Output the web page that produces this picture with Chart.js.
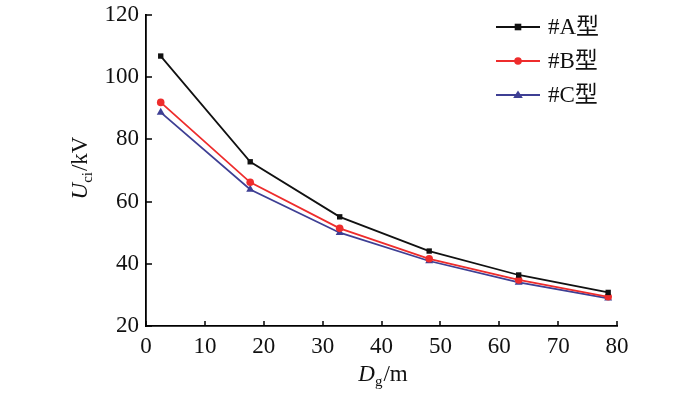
<!DOCTYPE html>
<html>
<head>
<meta charset="utf-8">
<script src="https://cdn.jsdelivr.net/npm/chart.js@4"></script>
<style>
html,body{margin:0;padding:0;background:#fff;}
#wrap{width:700px;height:394px;}
</style>
</head>
<body>
<div id="wrap"><canvas id="c" width="700" height="394"></canvas></div>
<script>
const xValues = [2.5, 17.7, 32.9, 48.1, 63.3, 78.5];
const seriesA = [106.8, 72.8, 55.1, 44.1, 36.4, 30.8];
const seriesB = [91.9, 66.2, 51.4, 41.6, 34.8, 29.4];
const seriesC = [88.7, 63.9, 50.0, 40.9, 34.0, 28.9];
const seriesNames = ['#A型', '#B型', '#C型'];
const xTicks = [0, 10, 20, 30, 40, 50, 60, 70, 80];
const yTicks = [20, 40, 60, 80, 100, 120];

const FONT = '"Liberation Serif", "Times New Roman", "Noto Sans CJK SC", serif';
const colors = ['#111111', '#ee2c2c', '#3e3f94'];
const styles = ['rect', 'circle', 'triangle'];
const radii = [3.3, 3.8, 4.6];

function pts(ys){ return xValues.map((x,i)=>({x:x, y:ys[i]})); }

const inwardTicks = {
  id:'inwardTicks',
  afterDraw(chart){
    const ctx = chart.ctx, a = chart.chartArea;
    const xs = chart.scales.x, ys = chart.scales.y;
    ctx.save();
    ctx.strokeStyle = '#000'; ctx.lineWidth = 1.5;
    ctx.beginPath();
    xTicks.forEach(v=>{ const p = Math.round(xs.getPixelForValue(v)); ctx.moveTo(p, a.bottom); ctx.lineTo(p, a.bottom-5); });
    yTicks.forEach(v=>{ const p = Math.round(ys.getPixelForValue(v)); ctx.moveTo(a.left, p); ctx.lineTo(a.left+6, p); });
    ctx.stroke();
    ctx.restore();
  }
};

function drawMarker(ctx, style, x, y, r){
  ctx.beginPath();
  if(style==='rect'){ ctx.rect(x-r, y-r, 2*r, 2*r); }
  else if(style==='circle'){ ctx.arc(x, y, r, 0, Math.PI*2); }
  else { const h = r*1.6; ctx.moveTo(x, y-h*0.62); ctx.lineTo(x+r*1.05, y+h*0.42); ctx.lineTo(x-r*1.05, y+h*0.42); ctx.closePath(); }
  ctx.fill();
}

const customLegend = {
  id:'customLegend',
  afterDraw(chart){
    const ctx = chart.ctx;
    ctx.save();
    chart.data.datasets.forEach((ds,i)=>{
      const y = 27 + 34*i;
      ctx.strokeStyle = ds.borderColor; ctx.lineWidth = 1.8;
      ctx.beginPath(); ctx.moveTo(496, y); ctx.lineTo(540, y); ctx.stroke();
      ctx.fillStyle = ds.borderColor;
      drawMarker(ctx, styles[i], 518, y, radii[i]);
      ctx.fillStyle = '#111';
      ctx.font = '23px ' + FONT;
      ctx.textBaseline = 'middle'; ctx.textAlign = 'left';
      ctx.fillText(ds.label, 548, y+1);
    });
    ctx.restore();
  }
};

const axisTitles = {
  id:'axisTitles',
  afterDraw(chart){
    const ctx = chart.ctx;
    ctx.save();
    ctx.fillStyle = '#111';
    ctx.textBaseline = 'alphabetic'; ctx.textAlign = 'left';
    const big = '23px ' + FONT, bigI = 'italic 23px ' + FONT, sub = '15px ' + FONT;
    // X title
    ctx.font = bigI; const wD = ctx.measureText('D').width;
    ctx.font = sub; const wg = ctx.measureText('g').width;
    ctx.font = big; const wm = ctx.measureText('/m').width;
    let total = wD + wg + 1 + wm, x0 = 383 - total/2, base = 381;
    ctx.font = bigI; ctx.fillText('D', x0, base);
    ctx.font = sub; ctx.fillText('g', x0 + wD, base + 5);
    ctx.font = big; ctx.fillText('/m', x0 + wD + wg + 1, base);
    // Y title
    ctx.translate(87, 168);
    ctx.rotate(-Math.PI/2);
    ctx.font = bigI; const wU = ctx.measureText('U').width;
    ctx.font = sub; const wci = ctx.measureText('ci').width;
    ctx.font = big; const wkv = ctx.measureText('/kV').width;
    total = wU + wci + 1 + wkv; x0 = -total/2;
    ctx.font = bigI; ctx.fillText('U', x0, 0);
    ctx.font = sub; ctx.fillText('ci', x0 + wU, 5);
    ctx.font = big; ctx.fillText('/kV', x0 + wU + wci + 1, 0);
    ctx.restore();
  }
};

new Chart(document.getElementById('c'), {
  type:'line',
  data:{
    datasets:[seriesA, seriesB, seriesC].map((s,i)=>({
      label: seriesNames[i],
      data: pts(s),
      borderColor: colors[i],
      backgroundColor: colors[i],
      borderWidth: 1.8,
      pointStyle: styles[i],
      pointRadius: radii[i] + (i===0?0.5:0),
      pointBorderWidth: 0,
      tension: 0
    }))
  },
  options:{
    responsive:false,
    animation:false,
    devicePixelRatio:1,
    layout:{padding:{top:15, right:83, bottom:0, left:0}},
    plugins:{legend:{display:false}, tooltip:{enabled:false}},
    scales:{
      x:{
        type:'linear', min:0, max:80,
        afterBuildTicks(s){ s.ticks = xTicks.map(v=>({value:v})); },
        afterFit(s){ s.height = 68; s.paddingLeft = 0; s.paddingRight = 0; },
        grid:{drawOnChartArea:false, drawTicks:false},
        border:{display:true, color:'#000', width:1.8},
        ticks:{padding:7, color:'#111', font:{family:FONT, size:23}, maxRotation:0}
      },
      y:{
        type:'linear', min:20, max:120,
        afterBuildTicks(s){ s.ticks = yTicks.map(v=>({value:v})); },
        afterFit(s){ s.width = 146; s.paddingTop = 0; s.paddingBottom = 0; },
        grid:{drawOnChartArea:false, drawTicks:false},
        border:{display:true, color:'#000', width:1.8},
        ticks:{padding:7, color:'#111', font:{family:FONT, size:23}}
      }
    }
  },
  plugins:[inwardTicks, customLegend, axisTitles]
});
</script>
</body>
</html>
